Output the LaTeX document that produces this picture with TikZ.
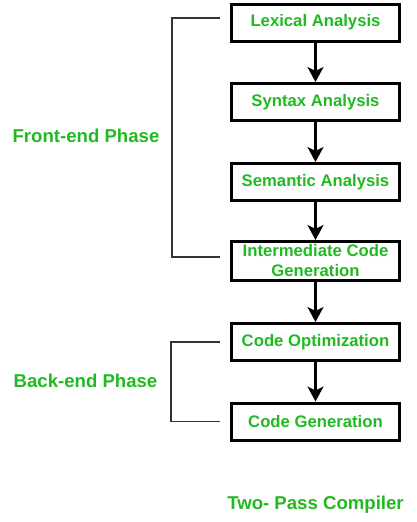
\documentclass[tikz,border=0pt]{standalone}
\usepackage{fontspec}
\setmainfont{Liberation Sans}
\usetikzlibrary{arrows.meta}
\definecolor{gfg}{RGB}{32,186,32}
\begin{document}
\begin{tikzpicture}[x=1pt,y=-1pt,
  stage/.style={draw=black,line width=3pt,minimum width=168pt,minimum height=37pt,inner sep=0pt,
    font=\fontsize{16.7}{20}\selectfont\bfseries,text=gfg,align=center},
  phaselabel/.style={inner sep=0pt,font=\fontsize{18.6}{22}\selectfont\bfseries,text=gfg},
  flow/.style={line width=2.8pt,-{Stealth[length=15pt,width=16pt,inset=4pt]}},
  bracket/.style={draw=black!80,line width=1.5pt}]
\useasboundingbox (0,0) rectangle (416,522);
\node[stage] (lex) at (315.5,22.5) {Lexical Analysis};
\node[stage] (syn) at (315.5,102) {Syntax Analysis};
\node[stage] (sem) at (315.5,182) {Semantic Analysis};
\node[stage,minimum height=39pt] (icg) at (315.5,261) {Intermediate Code\\Generation};
\node[stage] (opt) at (315.5,342) {Code Optimization};
\node[stage] (gen) at (315.5,421.5) {Code Generation};
\draw[flow] (lex) -- (syn);
\draw[flow] (syn) -- (sem);
\draw[flow] (sem) -- (icg);
\draw[flow] (icg) -- (opt);
\draw[flow] (opt) -- (gen);
\draw[bracket] ([xshift=-10pt,yshift=4.5pt]lex.west) -- ++(-48,0) |- ([xshift=-10pt,yshift=4pt]icg.west);
\draw[bracket] ([xshift=-10pt]opt.west) -- ++(-49,0) |- ([xshift=-10pt]gen.west);
\node[phaselabel] (front) at (86,136) {Front-end Phase};
\node[phaselabel] (back) at (85.5,381) {Back-end Phase};
\node[phaselabel] (title) at (315.5,505) {Two- Pass Compiler};
\end{tikzpicture}
\end{document}
